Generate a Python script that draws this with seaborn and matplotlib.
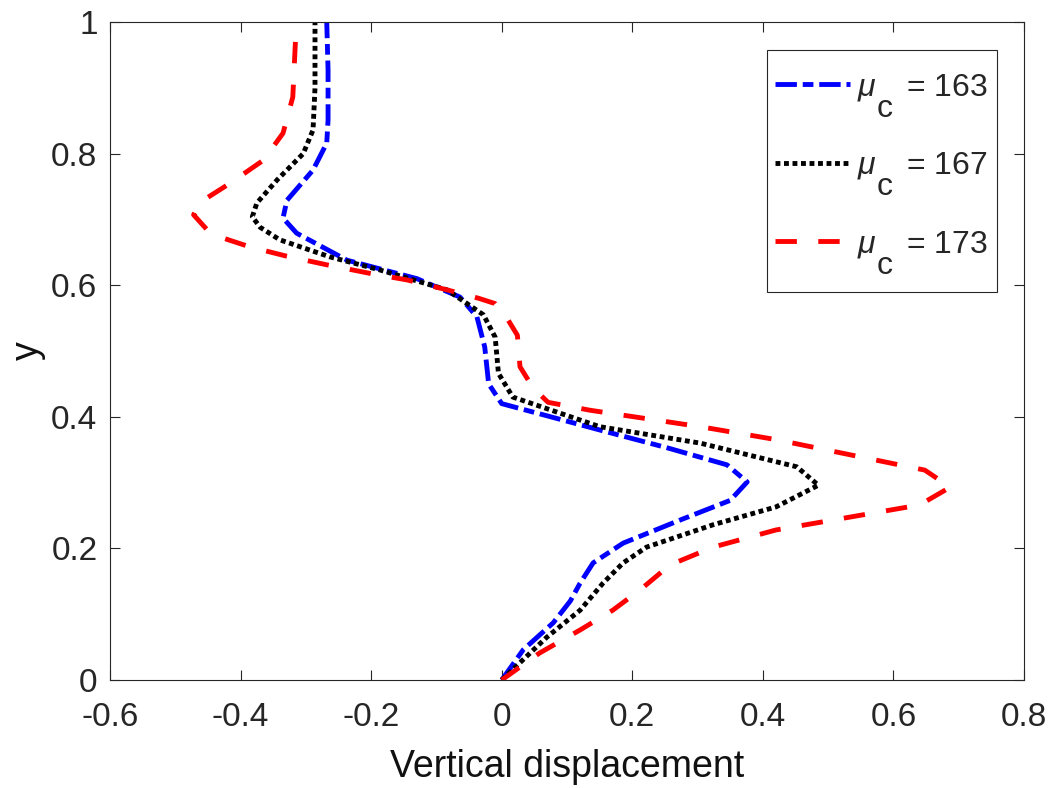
import numpy as np
import pandas as pd
import matplotlib
matplotlib.use("Agg")
import matplotlib.pyplot as plt
from matplotlib.patches import Rectangle
import seaborn as sns

# ---- data ----
y163 = [0, 0.046, 0.087, 0.12, 0.147, 0.178, 0.208, 0.243, 0.273, 0.301, 0.327, 0.353,
        0.38, 0.42, 0.45, 0.506, 0.552, 0.582, 0.61, 0.638, 0.679, 0.702, 0.729, 0.775,
        0.816, 0.851, 0.927, 1.0]
x163 = [0, 0.033, 0.079, 0.105, 0.12, 0.14, 0.186, 0.273, 0.35, 0.376, 0.345, 0.253,
        0.15, 0.0, -0.02, -0.026, -0.038, -0.064, -0.13, -0.237, -0.314, -0.335, -0.329,
        -0.289, -0.268, -0.266, -0.266, -0.268]

y167 = [0, 0.065, 0.106, 0.147, 0.178, 0.202, 0.236, 0.263, 0.296, 0.324, 0.36, 0.385,
        0.43, 0.466, 0.521, 0.555, 0.593, 0.623, 0.643, 0.669, 0.688, 0.704, 0.725, 0.76,
        0.80, 0.836, 0.90, 1.0]
x167 = [0, 0.069, 0.12, 0.155, 0.186, 0.222, 0.324, 0.42, 0.485, 0.452, 0.304, 0.15,
        0.017, -0.005, -0.01, -0.028, -0.084, -0.186, -0.263, -0.34, -0.37, -0.382, -0.375,
        -0.344, -0.304, -0.289, -0.286, -0.286]

y173 = [0, 0.041, 0.076, 0.106, 0.137, 0.175, 0.202, 0.228, 0.266, 0.293, 0.319, 0.365,
        0.385, 0.41, 0.422, 0.444, 0.476, 0.524, 0.55, 0.572, 0.58, 0.593, 0.608, 0.618,
        0.631, 0.644, 0.658, 0.673, 0.684, 0.707, 0.726, 0.755, 0.79, 0.831, 0.886, 0.97]
x173 = [0, 0.058, 0.12, 0.17, 0.212, 0.258, 0.324, 0.42, 0.64, 0.687, 0.648, 0.422,
        0.304, 0.135, 0.071, 0.048, 0.028, 0.024, 0.008, -0.01, -0.035, -0.084, -0.145,
        -0.202, -0.268, -0.329, -0.385, -0.431, -0.451, -0.472, -0.462, -0.416, -0.365,
        -0.335, -0.32, -0.316]

mu_values = ["163", "167", "173"]
xticks = [-0.6, -0.4, -0.2, 0, 0.2, 0.4, 0.6, 0.8]
xticklabels = ["-0.6", "-0.4", "-0.2", "0", "0.2", "0.4", "0.6", "0.8"]
yticks = [0, 0.2, 0.4, 0.6, 0.8, 1.0]
yticklabels = ["0", "0.2", "0.4", "0.6", "0.8", "1"]

# ---- style ----
sns.set_style("white")
plt.rcParams["font.family"] = ["Liberation Sans", "DejaVu Sans"]
plt.rcParams["mathtext.fontset"] = "custom"
plt.rcParams["mathtext.rm"] = "Liberation Sans"
plt.rcParams["mathtext.it"] = "Liberation Sans:italic"
plt.rcParams["axes.unicode_minus"] = False

grey = "#262626"
fig = plt.figure(figsize=(10.54, 7.88), dpi=100)
ax = fig.add_axes([110/1054, 1-680/788, 914/1054, 658/788])

colors = ["#0000ff", "#000000", "#ff0000"]
lw = 3.5
series = [(x163, y163), (x167, y167), (x173, y173)]
dashes = [(4.4, 1.2, 2.2, 1.2), (1.0, 0.75), (4.4, 4.4)]
labels = [r"$\mu\,$" + "   = " + v for v in mu_values]
for (xs, ys), c, lab, d in zip(series, colors, labels, dashes):
    df = pd.DataFrame({"x": xs, "y": ys})
    sns.lineplot(data=df, x="x", y="y", sort=False, estimator=None, ax=ax,
                 color=c, lw=lw, label=lab)
    line = ax.lines[-1]
    line.set_dashes(d)
    line.set_dash_capstyle("butt")
    line.set_solid_joinstyle("round")

ax.set_xlim(-0.6, 0.8)
ax.set_ylim(0, 1)
ax.set_xticks(xticks)
ax.set_xticklabels(xticklabels)
ax.set_yticks(yticks)
ax.set_yticklabels(yticklabels)
ax.tick_params(direction="in", top=True, right=True, bottom=True, left=True,
               length=7, width=0.8, colors=grey, labelsize=24)
ax.tick_params(axis="x", pad=15.5)
ax.tick_params(axis="y", pad=9)
for s in ax.spines.values():
    s.set_visible(True)
    s.set_color(grey)
    s.set_linewidth(0.8)

ax.set_xlabel("Vertical displacement", fontsize=27, color="#111111", labelpad=12)
ax.set_ylabel("y", fontsize=27, color="#111111", labelpad=4)

# legend frame (box as in the reference)
frame = Rectangle((0.7188, 0.5897), 0.9705 - 0.7188, 0.9574 - 0.5897,
                  transform=ax.transAxes, facecolor="white", edgecolor=grey,
                  linewidth=0.8, zorder=4.9)
ax.add_patch(frame)

leg_fs = 23
leg = ax.legend(loc="upper left", bbox_to_anchor=(0.7276, 0.924), borderaxespad=0,
                fontsize=leg_fs, frameon=False, handlelength=2.35, handletextpad=0.22,
                labelspacing=1.48, borderpad=0.0)
for h in leg.get_lines():
    h.set_linewidth(lw)

# subscript "c" of mu (full size, lowered, as in the reference)
for t in leg.get_texts():
    ax.annotate("c", xy=(0, 0), xycoords=t, xytext=(20, -14),
                textcoords="offset pixels", fontsize=leg_fs, va="baseline",
                ha="left", zorder=7, annotation_clip=False)

fig.canvas.draw()
fig.savefig("out.png", dpi=100)
